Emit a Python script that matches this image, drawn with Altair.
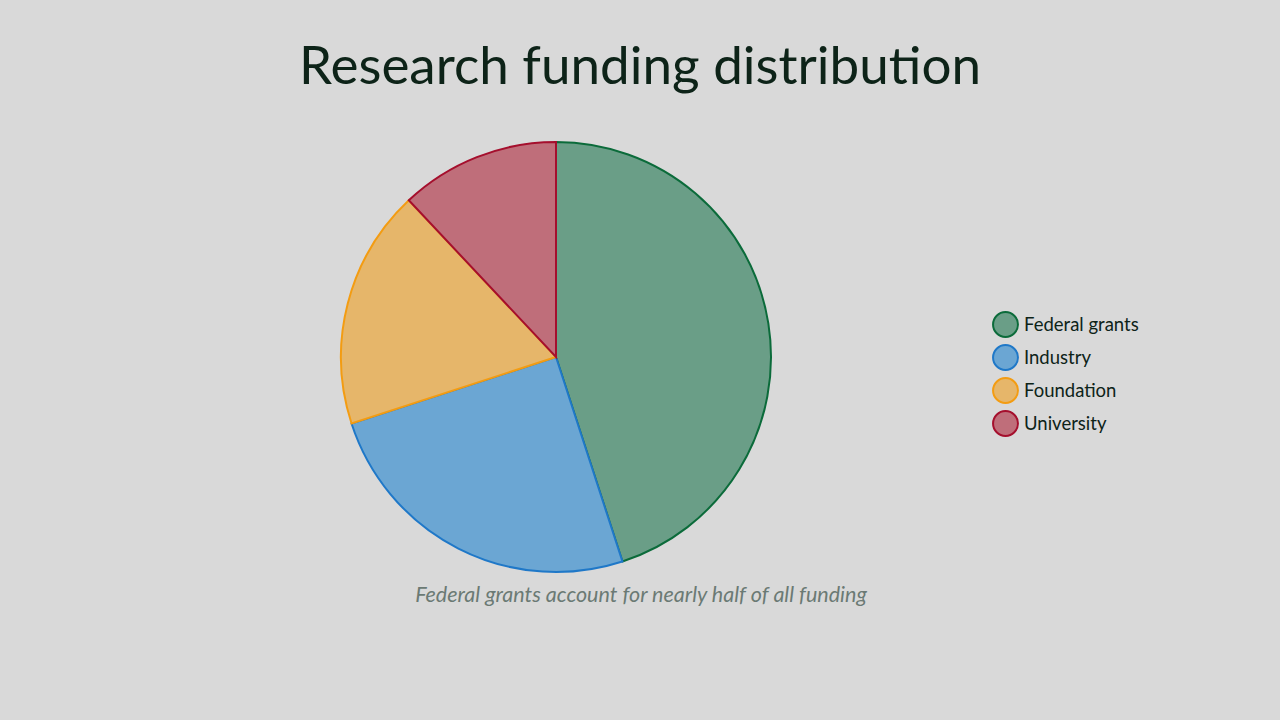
import altair as alt
import pandas as pd

# Funding shares (percent of total)
sources = ["Federal grants", "Industry", "Foundation", "University"]
shares = [45, 25, 18, 12]
order = [1, 2, 3, 4]

fill_colors = ["#6a9e87", "#6ba6d3", "#e6b66a", "#bf6e7a"]
stroke_colors = ["#0b6b3a", "#1f78c8", "#f39c12", "#a50f2d"]

df = pd.DataFrame({"source": sources, "share": shares, "order": order})

color_scale = alt.Scale(domain=sources, range=fill_colors)
stroke_scale = alt.Scale(domain=sources, range=stroke_colors)

pie = alt.Chart(df).mark_arc(radius=215, strokeWidth=2).encode(
    theta=alt.Theta("share:Q", stack=True),
    order=alt.Order("order:Q"),
    color=alt.Color(
        "source:N",
        scale=color_scale,
        sort=sources,
        legend=alt.Legend(
            title=None,
            orient="none",
            legendX=992,
            legendY=311,
            symbolType="circle",
            symbolSize=620,
            symbolStrokeWidth=2,
            symbolOpacity=1,
            labelFont="Lato",
            labelFontSize=18.5,
            labelColor="#0d2318",
            rowPadding=0,
            labelOffset=5,
        ),
    ),
    stroke=alt.Stroke("source:N", scale=stroke_scale, sort=sources, legend=None),
    x=alt.value(556),
    y=alt.value(357),
)

title = alt.Chart(pd.DataFrame({"t": ["Research funding distribution"]})).mark_text(
    font="Lato", fontSize=53, color="#0d2318", align="center", baseline="middle"
).encode(text="t:N", x=alt.value(640), y=alt.value(68))

note = alt.Chart(pd.DataFrame({"t": ["Federal grants account for nearly half of all funding"]})).mark_text(
    font="Lato", fontSize=21.5, fontStyle="italic", color="#6b7a74", align="center", baseline="middle"
).encode(text="t:N", x=alt.value(641), y=alt.value(596))

chart = alt.layer(pie, title, note).properties(
    width=1280,
    height=720,
    background="#d9d9d9",
    padding=0,
    autosize=alt.AutoSizeParams(type="none"),
).configure_view(stroke=None)

chart.save("out.html", embed_options={"renderer": "svg", "actions": False})
